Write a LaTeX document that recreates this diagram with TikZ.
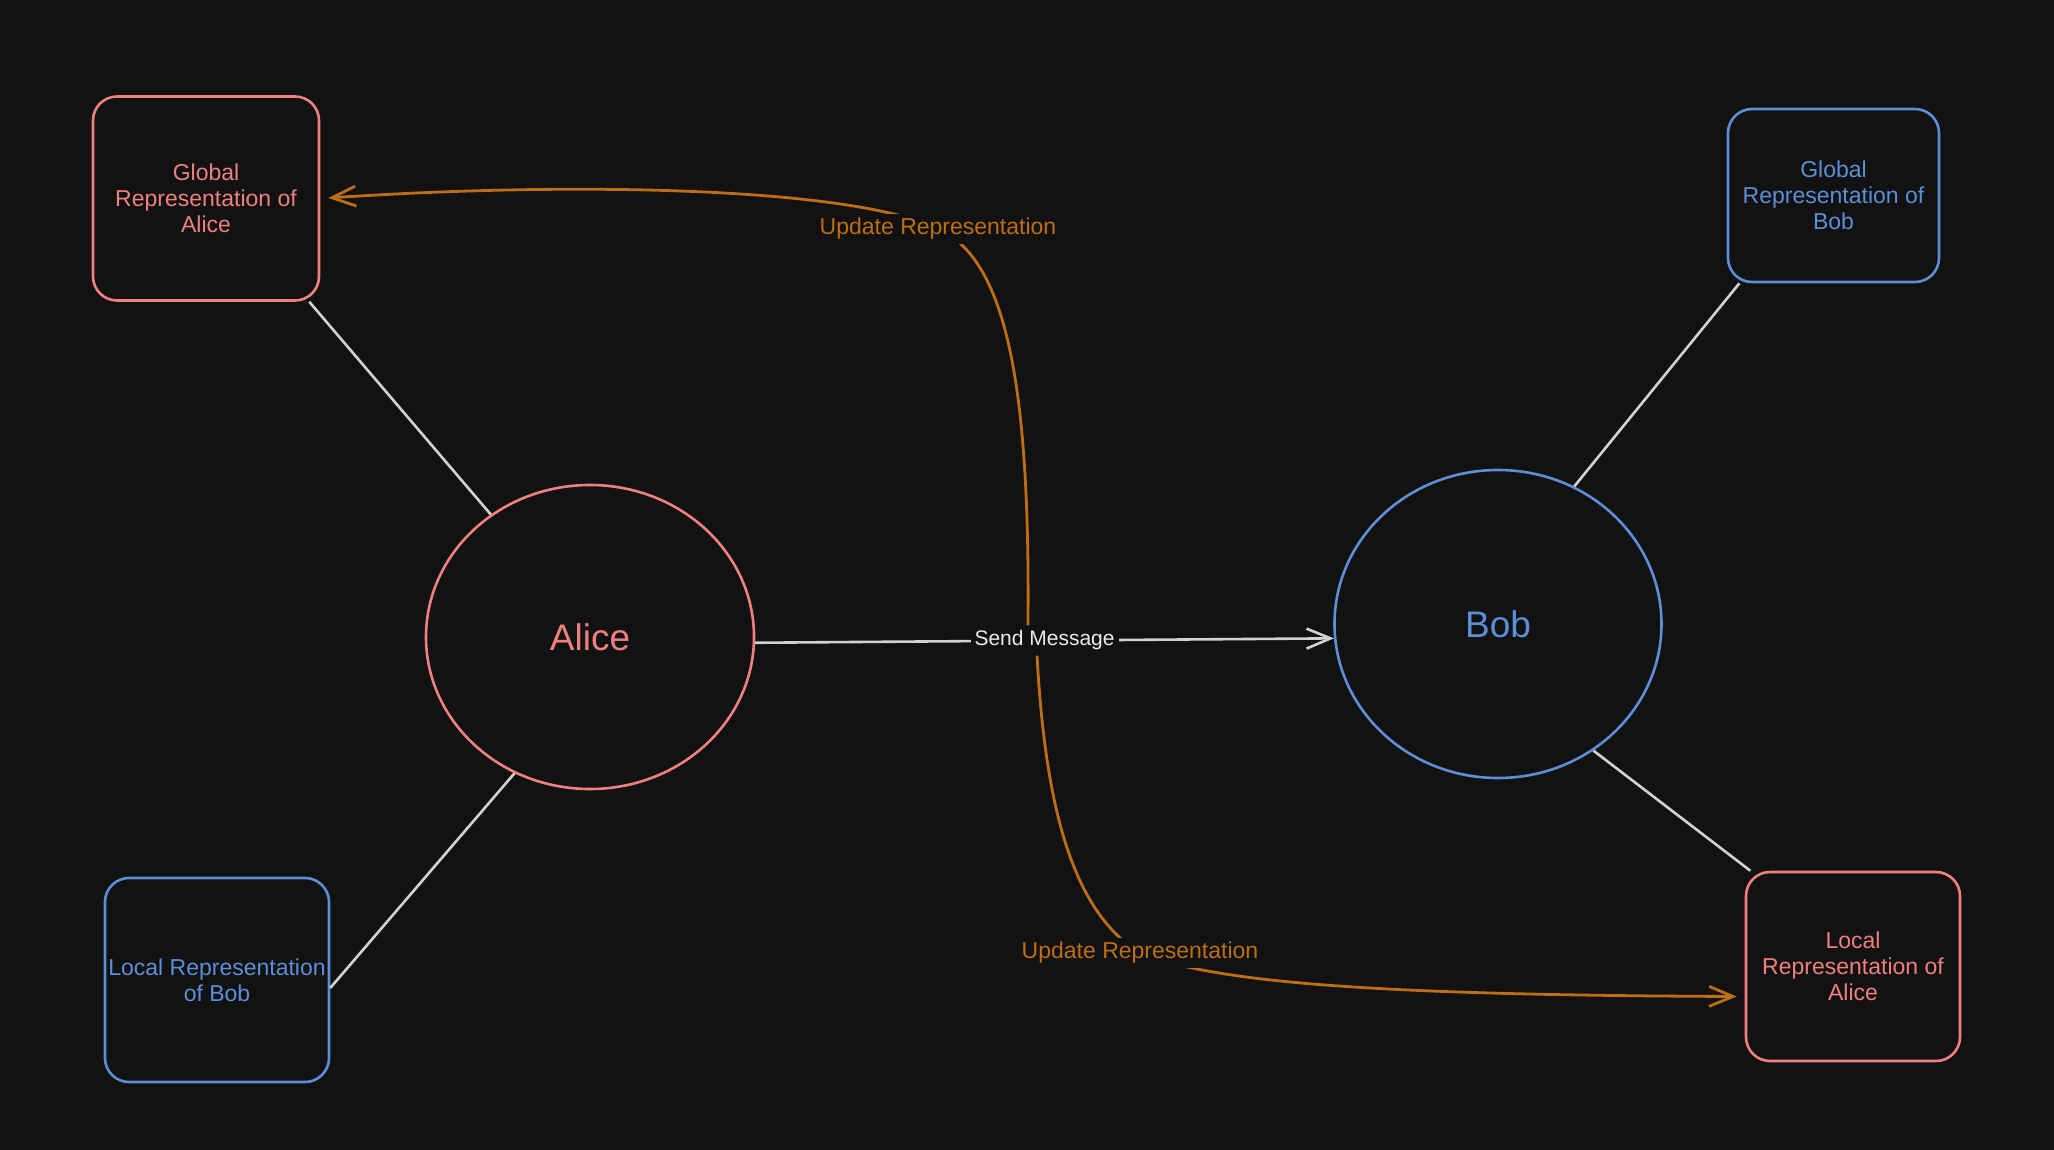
\documentclass[tikz,border=0pt]{standalone}
\usepackage{fontspec}
\setmainfont{Liberation Sans}
\usetikzlibrary{shapes.geometric,arrows.meta,calc}
\definecolor{bg}{RGB}{18,18,18}
\definecolor{ared}{RGB}{240,128,128}
\definecolor{bblue}{RGB}{92,143,216}
\definecolor{uorange}{RGB}{190,110,20}
\definecolor{lgray}{RGB}{210,210,210}
\definecolor{wtext}{RGB}{235,235,235}
\begin{document}
\begin{tikzpicture}[x=1pt,y=-1pt,
 box/.style={draw, rounded corners=24pt, line width=2.6pt, inner sep=0pt, align=center, font=\fontsize{23}{26}\selectfont},
 person/.style={draw, ellipse, line width=2.6pt, inner sep=0pt, font=\fontsize{37}{40}\selectfont},
 conn/.style={lgray, line width=2.6pt},
 tip/.style={-{Straight Barb[length=24pt,width=20pt]}},
 upd/.style={uorange, line width=2.8pt, tip},
 updlbl/.style={text=uorange, fill=bg, inner sep=4pt, font=\fontsize{23}{26}\selectfont},
 sendlbl/.style={text=wtext, fill=bg, inner sep=4pt, font=\fontsize{21}{24}\selectfont},
]
\fill[bg] (0,0) rectangle (2054,1150);
\useasboundingbox (0,0) rectangle (2054,1150);

\node[box, ared, minimum width=226pt, minimum height=204pt] (galice) at (206,198.5) {Global\\Representation of\\Alice};
\node[box, bblue, minimum width=211pt, minimum height=173pt] (gbob) at (1833.5,195.5) {Global\\Representation of\\Bob};
\node[box, bblue, minimum width=224pt, minimum height=204pt] (lbob) at (217,980) {Local Representation\\of Bob};
\node[box, ared, minimum width=214pt, minimum height=189pt] (lalice) at (1853,966.5) {Local\\Representation of\\Alice};
\node[person, ared, minimum width=328pt, minimum height=304pt] (alice) at (590,637) {Alice};
\node[person, bblue, minimum width=327pt, minimum height=308pt] (bob) at (1498,624) {Bob};

\draw[conn] (alice.129) -- (galice.-45);
\draw[conn] (alice.241) -- (lbob.-4);
\draw[conn] (bob.61) -- (gbob.223);
\draw[conn] (bob.-53) -- (lalice.137);

\draw[conn, tip] (alice.-2) -- node[sendlbl] (send) {Send Message} (bob.185);

\coordinate (u0) at ($(send.north west)!0.39!(send.north east)$);
\coordinate (l0) at ($(send.south west)!0.45!(send.south east)$);
\coordinate (lend) at ($(lalice.west)+(-8,30)$);

\draw[upd, shorten >=8pt] (u0) .. controls (1030,400) and (1010,260) .. (938,229)
  node[updlbl] (upd1) {Update Representation}
  .. controls (860,190) and (600,180) .. (galice.east);
\draw[upd] (l0) .. controls (1045,800) and (1070,910) .. (1140,953)
  node[updlbl] (upd2) {Update Representation}
  .. controls (1220,985) and (1400,995) .. (lend);
\end{tikzpicture}
\end{document}
